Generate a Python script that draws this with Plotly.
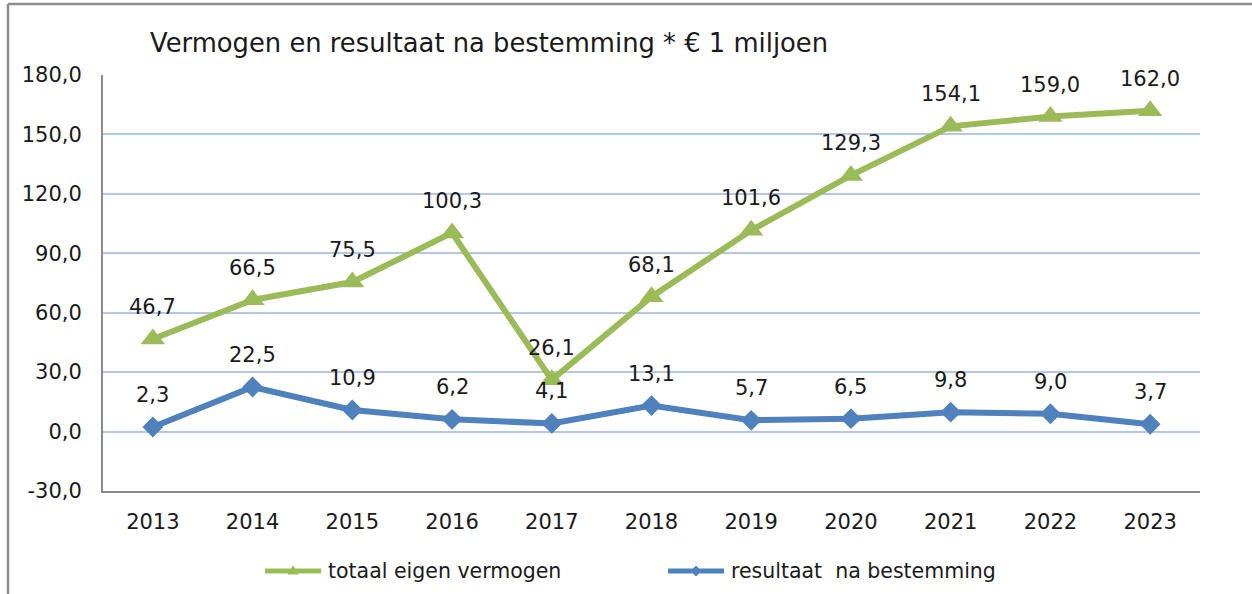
import plotly.graph_objects as go

years = ["2013", "2014", "2015", "2016", "2017", "2018", "2019", "2020", "2021", "2022", "2023"]
eigen_vermogen = [46.7, 66.5, 75.5, 100.3, 26.1, 68.1, 101.6, 129.3, 154.1, 159.0, 162.0]
resultaat = [2.3, 22.5, 10.9, 6.2, 4.1, 13.1, 5.7, 6.5, 9.8, 9.0, 3.7]
y_ticks = [-30, 0, 30, 60, 90, 120, 150, 180]
series_names = ["totaal eigen vermogen", "resultaat  na bestemming"]

GREEN = "#9BBB59"
BLUE = "#4F81BD"
FONT = "DejaVu Sans"
TXT = "#1a1a1a"

W, H = 1252, 594
L, R, T, B = 103, 52, 75, 103
pw, ph = W - L - R, H - T - B


def px_x(p):
    return (p - L) / pw


def px_y(p):
    return (H - B - p) / ph


def fmt(v):
    return f"{v:.1f}".replace(".", ",")


fig = go.Figure()
fig.add_trace(go.Scatter(
    x=years, y=eigen_vermogen, mode="lines+markers", name=series_names[0],
    line=dict(color=GREEN, width=6),
    marker=dict(symbol="triangle-up", size=21, color=GREEN),
))
fig.add_trace(go.Scatter(
    x=years, y=resultaat, mode="lines+markers", name=series_names[1],
    line=dict(color=BLUE, width=6),
    marker=dict(symbol="diamond", size=16, color=BLUE),
))

annotations = []
for series in (eigen_vermogen, resultaat):
    for i, v in enumerate(series):
        annotations.append(dict(
            x=i, y=v, xref="x", yref="y", text=fmt(v), showarrow=False,
            yshift=32, font=dict(family=FONT, size=21, color=TXT),
        ))

# frame
shapes = [
    dict(type="line", xref="paper", yref="paper", x0=px_x(8), x1=px_x(8),
         y0=px_y(4), y1=px_y(600), line=dict(color="#8c8c8c", width=2.5)),
    dict(type="line", xref="paper", yref="paper", x0=px_x(8), x1=px_x(1260),
         y0=px_y(4), y1=px_y(4), line=dict(color="#8c8c8c", width=2.5)),
]

# custom legend
leg_y = px_y(571)
legend_items = [
    (series_names[0], GREEN, 265, "M-5,-3 L5,-3 L0,5 Z"),
    (series_names[1], BLUE, 668, "M-5,0 L0,5 L5,0 L0,-5 Z"),
]
for name, color, x0, sym in legend_items:
    shapes.append(dict(type="line", xref="paper", yref="paper",
                       x0=px_x(x0), x1=px_x(x0 + 56), y0=leg_y, y1=leg_y,
                       line=dict(color=color, width=5)))
    shapes.append(dict(type="path", xref="paper", yref="paper",
                       xsizemode="pixel", ysizemode="pixel",
                       xanchor=px_x(x0 + 28), yanchor=leg_y, path=sym,
                       fillcolor=color, line=dict(color=color, width=1)))
    annotations.append(dict(
        x=px_x(x0 + 61), y=leg_y, xref="paper", yref="paper", xanchor="left",
        yanchor="middle", text=name, showarrow=False,
        font=dict(family=FONT, size=20.5, color=TXT),
    ))

fig.update_layout(
    width=W, height=H,
    margin=dict(l=L, r=R, t=T, b=B),
    paper_bgcolor="white", plot_bgcolor="white",
    separators=",.",
    font=dict(family=FONT, size=21, color=TXT),
    title=dict(
        text="Vermogen en resultaat na bestemming * € 1 miljoen",
        x=px_x(150), xref="paper", xanchor="left",
        y=1 - 43 / H, yref="container", yanchor="middle",
        font=dict(family=FONT, size=25.8, color=TXT),
    ),
    xaxis=dict(
        type="category", showgrid=False, showline=True, linecolor="#8c8c8c", linewidth=2,
        ticks="", ticklabelstandoff=11, tickfont=dict(family=FONT, size=21),
        range=[-0.5, len(years) - 0.5], zeroline=False,
    ),
    yaxis=dict(
        range=[-30, 180], tickvals=y_ticks, ticktext=[fmt(v) for v in y_ticks],
        showgrid=True,
        gridcolor="#B4C7E7", gridwidth=2, showline=True, linecolor="#8c8c8c", linewidth=2,
        zeroline=False, ticks="", ticklabelstandoff=15, tickfont=dict(family=FONT, size=21),
    ),
    showlegend=False,
    annotations=annotations,
    shapes=shapes,
)

fig.write_html("out.html")
